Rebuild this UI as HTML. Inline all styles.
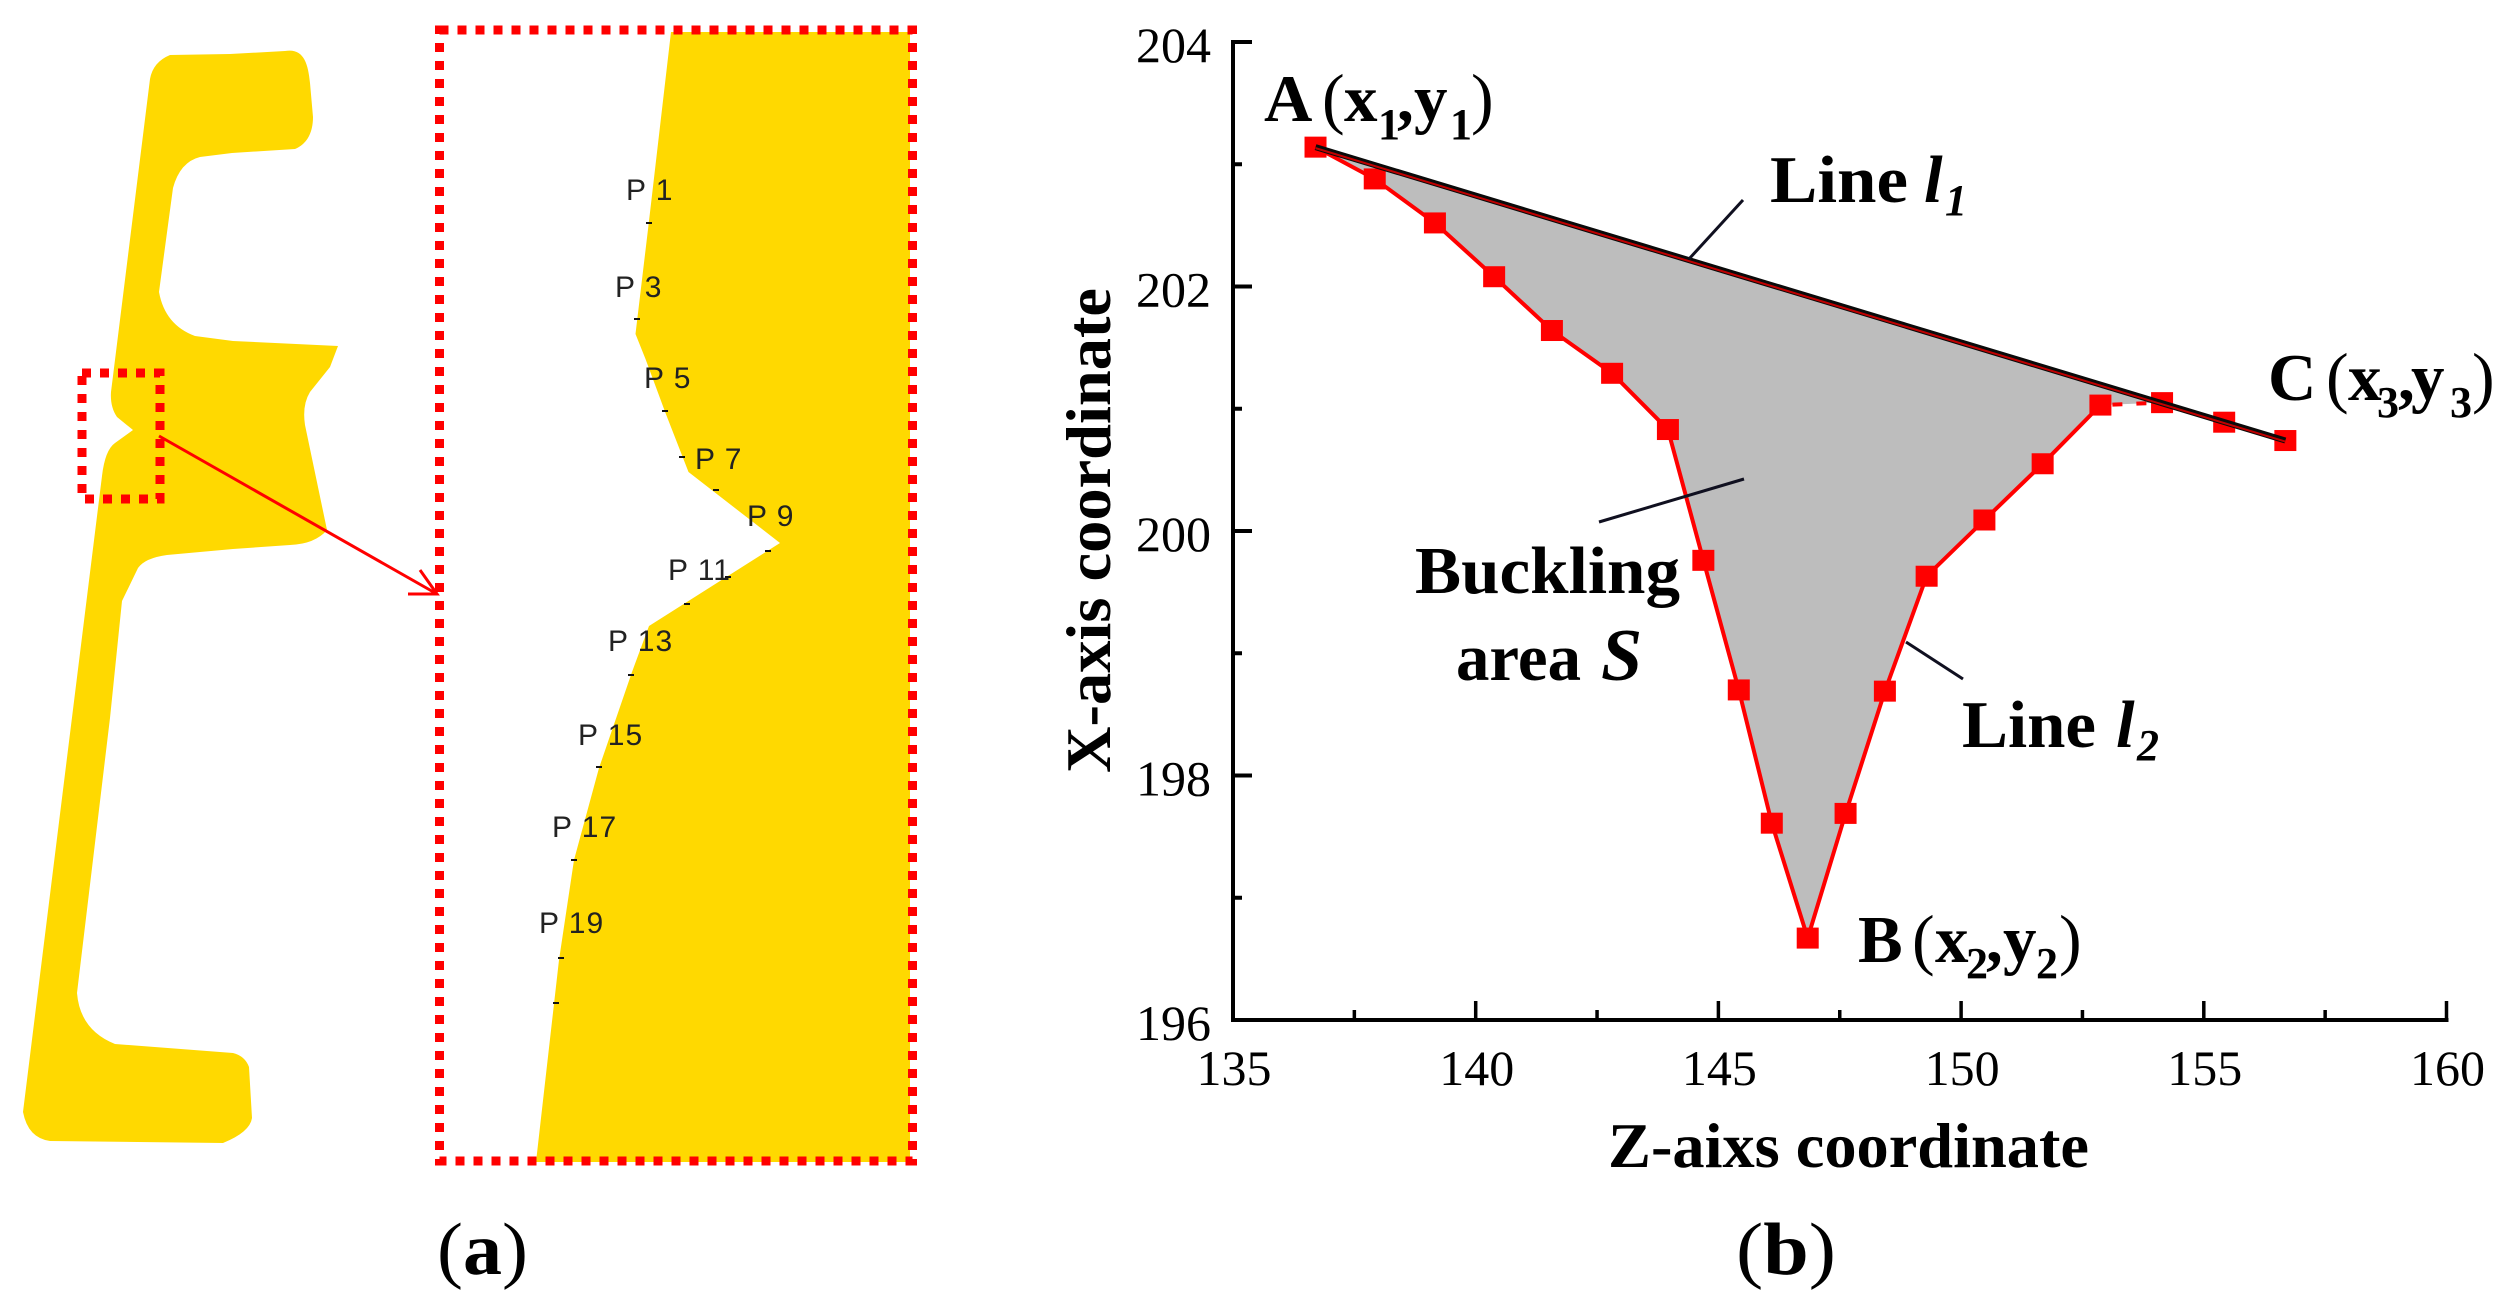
<!DOCTYPE html>
<html lang="en">
<head>
<meta charset="utf-8">
<title>Buckling area figure</title>
<style>
html,body{margin:0;padding:0;background:#fff;width:2514px;height:1309px;overflow:hidden}
svg{display:block;position:absolute;left:0;top:0}
.serif{font-family:"Liberation Serif",serif}
.tick{font-family:"Liberation Serif",serif;font-size:50px;fill:#000}
.title{font-family:"Liberation Serif",serif;font-size:64px;font-weight:bold;fill:#000}
.note{font-family:"Liberation Serif",serif;font-size:67px;font-weight:bold;fill:#000}
.par{font-weight:normal;font-size:68px}
.sub{font-size:44px;font-weight:bold}
.pl{font-family:"Liberation Sans",sans-serif;font-size:30px;fill:#222;letter-spacing:1px}
</style>
</head>
<body>
<svg id="fig" width="2514" height="1309" viewBox="0 0 2514 1309" xmlns="http://www.w3.org/2000/svg">
  <g>
    <path fill="#ffd900" d="M150 79 Q153 62 170 55 L230 54 L285 51 C303 48 308 62 310 83 L313 117 C313 135 305 145 295 149 L232 153 L200 157 Q180 162 173 188 L168 225 L159 292 Q165 325 195 336 L233 341 L338 346 L330 367 L310 392 Q302 405 305 425 L327 530 Q315 544 290 545 L233 549 L167 555 Q145 558 138 568 L122 601 L110 718 L77 993 Q80 1030 115 1044 L233 1053 Q245 1056 249 1067 L252 1118 Q250 1132 223 1143 L50 1141 Q28 1138 23 1112 L102 476 Q105 450 115 443 L133 430 L117 417 Q110 407 111 392 L150 79 Z"/>
    <rect x="82" y="373" width="78" height="126" fill="none" stroke="#ff0000" stroke-width="9" stroke-dasharray="9 9"/>
    <path fill="#ffd900" d="M671 32 L649 221 L635.5 334 L645.5 359 L665.5 413 L688.5 472 L780 543 L649 626 L632 672 L599 768 L574 860 L559 960 L536 1162 L910 1162 L910 32 Z"/>
    <rect x="439.5" y="30" width="473" height="1131" fill="none" stroke="#ff0000" stroke-width="9" stroke-dasharray="9 9"/>
    <g fill="none" stroke="#ff0000" stroke-width="3">
      <line x1="159" y1="436" x2="437" y2="594"/>
      <path d="M408 594 L437 594 L420 570"/>
    </g>
    <g fill="#111">
      <rect x="646" y="222" width="6" height="2"/><rect x="634" y="318" width="6" height="2"/><rect x="662" y="410" width="6" height="2"/><rect x="679" y="456" width="6" height="2"/><rect x="713" y="489" width="6" height="2"/><rect x="765" y="550" width="6" height="2"/><rect x="725" y="576" width="6" height="2"/><rect x="684" y="603" width="6" height="2"/><rect x="628" y="674" width="6" height="2"/><rect x="596" y="766" width="6" height="2"/><rect x="571" y="859" width="6" height="2"/><rect x="558" y="957" width="6" height="2"/><rect x="553" y="1002" width="6" height="2"/>
    </g>
    <g>
      <text class="pl" x="626" y="200">P 1</text>
      <text class="pl" x="615" y="297">P 3</text>
      <text class="pl" x="644" y="388">P 5</text>
      <text class="pl" x="695" y="469">P 7</text>
      <text class="pl" x="747" y="526">P 9</text>
      <text class="pl" x="668" y="580">P 11</text>
      <text class="pl" x="608" y="651">P 13</text>
      <text class="pl" x="578" y="745">P 15</text>
      <text class="pl" x="552" y="837">P 17</text>
      <text class="pl" x="539" y="933">P 19</text>
    </g>
    <text class="serif" x="437" y="1274" font-size="74" textLength="91" lengthAdjust="spacingAndGlyphs">(<tspan font-weight="bold">a</tspan>)</text>
  </g>
  <g id="chart"></g>
  <g>
    <text class="title" transform="translate(1110,773) rotate(-90)" textLength="485" lengthAdjust="spacingAndGlyphs">X-axis coordinate</text>
    <text class="title" x="1608" y="1167" textLength="481" lengthAdjust="spacingAndGlyphs">Z-aixs coordinate</text>
    <text class="note" y="121"><tspan x="1264">A</tspan><tspan class="par" x="1322">(</tspan><tspan x="1344">x</tspan><tspan class="sub" x="1378" y="139">1</tspan><tspan x="1397" y="121">,</tspan><tspan x="1414">y</tspan><tspan class="sub" x="1450" y="139">1</tspan><tspan class="par" x="1471" y="121">)</tspan></text>
    <text class="note" y="962"><tspan x="1858">B</tspan><tspan class="par" x="1912">(</tspan><tspan x="1935">x</tspan><tspan class="sub" x="1966" y="978">2</tspan><tspan x="1986" y="962">,</tspan><tspan x="2003">y</tspan><tspan class="sub" x="2036" y="978">2</tspan><tspan class="par" x="2059" y="962">)</tspan></text>
    <text class="note" y="400"><tspan x="2268">C</tspan><tspan class="par" x="2326">(</tspan><tspan x="2348">x</tspan><tspan class="sub" x="2377" y="417">3</tspan><tspan x="2398" y="400">,</tspan><tspan x="2411">y</tspan><tspan class="sub" x="2450" y="417">3</tspan><tspan class="par" x="2472" y="400">)</tspan></text>
    <text class="note" y="202"><tspan x="1770" textLength="138" lengthAdjust="spacingAndGlyphs">Line</tspan><tspan x="1924" font-style="italic">l</tspan><tspan class="sub" x="1945" y="215" font-style="italic">1</tspan></text>
    <text class="note" y="747"><tspan x="1962" textLength="134" lengthAdjust="spacingAndGlyphs">Line</tspan><tspan x="2116" font-style="italic">l</tspan><tspan class="sub" x="2137" y="760" font-style="italic">2</tspan></text>
    <text class="note" x="1415" y="593" textLength="265" lengthAdjust="spacingAndGlyphs">Buckling</text>
    <text class="note" y="680"><tspan x="1456" textLength="125" lengthAdjust="spacingAndGlyphs">area</tspan> <tspan x="1601" font-style="italic" font-size="74">S</tspan></text>
    <line x1="1743" y1="200" x2="1689" y2="259" stroke="#101020" stroke-width="3"/>
    <line x1="1599" y1="522" x2="1744" y2="479" stroke="#101020" stroke-width="3"/>
    <line x1="1906" y1="642" x2="1963" y2="679" stroke="#101020" stroke-width="3"/>
    <text class="serif" x="1736" y="1274" font-size="74" textLength="100" lengthAdjust="spacingAndGlyphs">(<tspan font-weight="bold">b</tspan>)</text>
  </g>
</svg>
<script>
const zValues = [136.70,137.92,139.16,140.38,141.57,142.81,143.96,144.69,145.42,146.10,146.84,147.62,148.43,149.29,150.48,151.68,152.87,154.14,155.42,156.68];
const xValues = [203.14,202.88,202.52,202.08,201.64,201.29,200.83,199.76,198.70,197.61,196.67,197.69,198.69,199.63,200.09,200.55,201.03,201.05,200.89,200.74];
const xTickLabels = [135,140,145,150,155,160];
const xMinorTicks = [137.5,142.5,147.5,152.5,157.5];
const yTickLabels = [196,198,200,202,204];
const yMinorTicks = [197,199,201,203];

const NS = 'http://www.w3.org/2000/svg';
const chart = document.getElementById('chart');
const sx = v => 1233 + (v - 135) * 48.54;
const sy = v => 42 + (204 - v) * 122.25;
function make(tag, attrs) {
  const el = document.createElementNS(NS, tag);
  for (const k in attrs) el.setAttribute(k, attrs[k]);
  chart.appendChild(el);
  return el;
}
const pts = zValues.map((z, i) => [sx(z), sy(xValues[i])]);
const ptStr = a => a.map(p => p[0].toFixed(1) + ',' + p[1].toFixed(1)).join(' ');

const area = make('polygon', {points: ptStr(pts.slice(0, 18)), fill: '#bdbdbd'});



const curveA = make('polyline', {points: ptStr(pts.slice(0, 17)), fill: 'none', stroke: '#ff0000', 'stroke-width': 4});



const curveGap = make('polyline', {points: ptStr(pts.slice(16, 18)), fill: 'none', stroke: '#ff0000', 'stroke-width': 4, 'stroke-dasharray': '10 14', 'stroke-dashoffset': '-12'});



const curveB = make('polyline', {points: ptStr(pts.slice(17)), fill: 'none', stroke: '#ff0000', 'stroke-width': 4});



pts.forEach(p => {
  const m = make('rect', {x: p[0] - 11, y: p[1] - 10.5, width: 22, height: 21, fill: '#ff0000'});
  
  
});

const first = pts[0], last = pts[pts.length - 1];
const chordBlack = make('line', {x1: first[0], y1: first[1], x2: last[0], y2: last[1], stroke: '#0a0a0a', 'stroke-width': 6});


const chordRed = make('line', {x1: first[0], y1: first[1] + 1, x2: last[0], y2: last[1] + 1, stroke: '#c00000', 'stroke-width': 2});



const yAxis = make('line', {x1: sx(135), y1: sy(204) - 2, x2: sx(135), y2: sy(196) + 2, stroke: '#000', 'stroke-width': 4});


const xAxis = make('line', {x1: sx(135) - 2, y1: sy(196), x2: sx(160) + 2, y2: sy(196), stroke: '#000', 'stroke-width': 4});



yTickLabels.forEach(v => {
  const t = make('line', {x1: sx(135), x2: sx(135) + 19, y1: sy(v), y2: sy(v), stroke: '#000', 'stroke-width': 4});
  
  
  const l = make('text', {x: 1211, y: sy(v) + 20, 'text-anchor': 'end', class: 'tick'});
  l.textContent = v;
  
  
});
yMinorTicks.forEach(v => {
  const t = make('line', {x1: sx(135), x2: sx(135) + 9, y1: sy(v), y2: sy(v), stroke: '#000', 'stroke-width': 4});
  
  
});
xTickLabels.forEach(v => {
  const t = make('line', {x1: sx(v), x2: sx(v), y1: sy(196), y2: sy(196) - 19, stroke: '#000', 'stroke-width': 3.5});
  
  
  const l = make('text', {x: sx(v) + 1, y: 1085, 'text-anchor': 'middle', class: 'tick'});
  l.textContent = v;
  
  
});
xMinorTicks.forEach(v => {
  const t = make('line', {x1: sx(v), x2: sx(v), y1: sy(196), y2: sy(196) - 10, stroke: '#000', 'stroke-width': 3.5});
  
  
});
</script>
</body>
</html>
